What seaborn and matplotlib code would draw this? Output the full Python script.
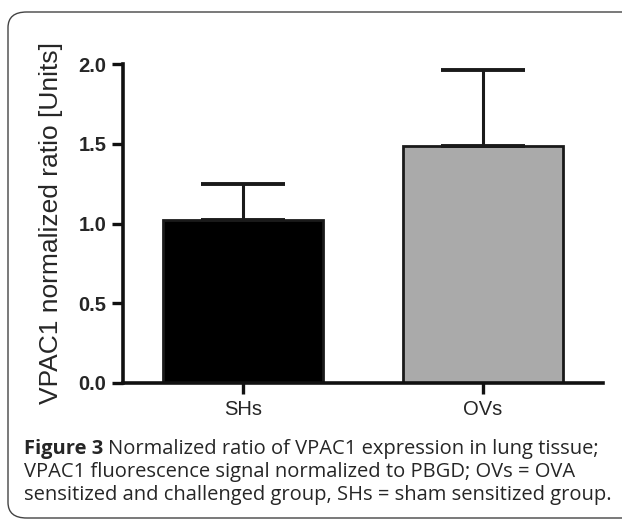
import matplotlib
matplotlib.use("Agg")
import matplotlib.pyplot as plt
import seaborn as sns
import pandas as pd
from matplotlib.patches import FancyBboxPatch

# data
groups = ["SHs", "OVs"]
means = [1.02, 1.486]
sd_upper = [0.23, 0.476]
bar_colors = ["#000000", "#aaaaaa"]
y_ticks = [0.0, 0.5, 1.0, 1.5, 2.0]

sns.set_style("ticks")
plt.rcParams["font.family"] = ["Liberation Sans", "DejaVu Sans"]

df = pd.DataFrame({"group": groups, "ratio": means})

W, H = 622, 521
fig = plt.figure(figsize=(W / 100, H / 100), dpi=100)
ax = fig.add_axes([123 / W, (H - 383) / H, 480 / W, 319 / H])

sns.barplot(data=df, x="group", y="ratio", hue="group", palette=bar_colors,
            width=0.67, edgecolor="#1a1a1a", linewidth=2.0, legend=False,
            errorbar=None, ax=ax)
ax.errorbar(range(len(groups)), means, yerr=[[0] * len(groups), sd_upper],
            fmt="none", ecolor="#1a1a1a", elinewidth=2.2, capsize=30,
            capthick=2.8, zorder=1)

ax.set_xlim(-0.5, 1.5)
ax.set_ylim(0, 2.0)
ax.set_yticks(y_ticks)
ax.set_yticklabels([f"{t:.1f}" for t in y_ticks], fontsize=14.5, fontweight="bold")
ax.set_xticks(range(len(groups)))
ax.set_xticklabels(groups, fontsize=14.5)
ax.set_xlabel("")
ax.set_ylabel("VPAC1 normalized ratio [Units]", fontsize=19, labelpad=11)
sns.despine(ax=ax)
for s in ["left", "bottom"]:
    ax.spines[s].set_linewidth(2.6)
    ax.spines[s].set_color("#111111")
ax.tick_params(axis="both", width=2.4, length=8, color="#111111", pad=4)

# rounded frame around the figure
frame = FancyBboxPatch((8 / W, 3 / H), 640 / W, 506 / H,
                       boxstyle="round,pad=0,rounding_size=0.03",
                       transform=fig.transFigure, fill=False,
                       edgecolor="#444444", linewidth=1.0, clip_on=False)
fig.patches.append(frame)

# caption
cap_x = 24 / W
fs = 14.5
lines_y = [1 - 449 / H, 1 - 472 / H, 1 - 495 / H]
bold = fig.text(cap_x, lines_y[0], "Figure 3", fontsize=fs, fontweight="bold",
                family="Open Sans", va="center")
fig.canvas.draw()
bb = bold.get_window_extent().transformed(fig.transFigure.inverted())
fig.text(bb.x1 + 5 / W, lines_y[0],
         "Normalized ratio of VPAC1 expression in lung tissue;",
         fontsize=fs, family="Open Sans", va="center")
fig.text(cap_x, lines_y[1],
         "VPAC1 fluorescence signal normalized to PBGD; OVs = OVA",
         fontsize=fs, family="Open Sans", va="center")
fig.text(cap_x, lines_y[2],
         "sensitized and challenged group, SHs = sham sensitized group.",
         fontsize=fs, family="Open Sans", va="center")

fig.savefig("out.png", dpi=100)
